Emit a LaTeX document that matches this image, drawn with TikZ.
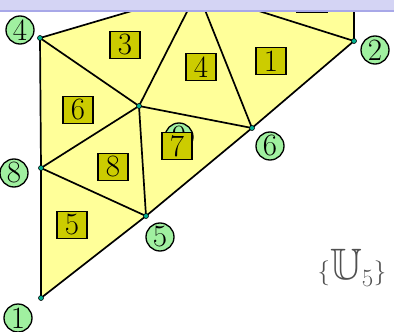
\documentclass[tikz,border=0pt]{standalone}
\usepackage{amssymb}
\definecolor{meshfill}{RGB}{255,255,153}
\definecolor{dotfill}{RGB}{0,176,144}
\definecolor{lblfill}{RGB}{160,240,160}
\definecolor{boxfill}{RGB}{204,204,0}
\definecolor{barfill}{RGB}{212,212,244}
\definecolor{barline}{RGB}{168,168,232}
\definecolor{txtgray}{RGB}{80,80,80}
\tikzset{
  edge/.style={draw=black,line width=1.7pt},
  vdot/.style={circle,fill=dotfill,draw=black,line width=0.6pt,minimum size=5pt,inner sep=0pt},
  vlabel/.style={circle,fill=lblfill,draw=black,line width=1.3pt,minimum size=28pt,inner sep=0pt,font=\fontsize{31}{33}\selectfont},
  elabel/.style={rectangle,fill=boxfill,draw=black,line width=1.6pt,minimum width=30pt,minimum height=27pt,inner sep=0pt,font=\fontsize{31}{33}\selectfont}
}
\begin{document}
\begin{tikzpicture}[x=1pt,y=-1pt]
\useasboundingbox (0,0) rectangle (394,332);
% vertices
\coordinate (v4) at (40,38);
\coordinate (v2) at (354,41);
\coordinate (vc) at (139,106);
\coordinate (v6) at (252,128);
\coordinate (v8) at (41,168);
\coordinate (v5) at (146,216);
\coordinate (v1) at (41,298);
\coordinate (t1) at (169,0);
\coordinate (t2) at (193,0);
\coordinate (t3) at (201,0);
\coordinate (t4) at (224,0);
\coordinate (t5) at (354,0);
% fill
\fill[meshfill] (v4) -- (t1) -- (t5) -- (v2) -- (v6) -- (v5) -- (v1) -- (v8) -- cycle;
% edges
\draw[edge] (v4) -- (t1);
\draw[edge] (v4) -- (vc);
\draw[edge] (v4) -- (v8);
\draw[edge] (v8) -- (v1);
\draw[edge] (v8) -- (vc);
\draw[edge] (v8) -- (v5);
\draw[edge] (vc) -- (v5);
\draw[edge] (vc) -- (v6);
\draw[edge] (vc) -- (t2);
\draw[edge] (v6) -- (t3);
\draw[edge] (v6) -- (v5);
\draw[edge] (v5) -- (v1);
\draw[edge] (v6) -- (v2);
\draw[edge] (v2) -- (t4);
\draw[edge] (v2) -- (t5);
% dots
\foreach \v in {v4,v2,vc,v6,v8,v5,v1} \node[vdot] (d\v) at (\v) {};
% vertex labels
\node[vlabel] (l4) at (20,30) {4};
\node[vlabel] (l2) at (375,50) {2};
\node[vlabel] (l6) at (270,146) {6};
\node[vlabel] (l8) at (14,173) {8};
\node[vlabel] (l5) at (160,237) {5};
\node[vlabel] (l1) at (18,318) {1};
\node[vlabel] (l9) at (179,137) {9};
% element labels
\node[elabel] (b3) at (125,45) {3};
\node[elabel] (b4) at (201,67) {4};
\node[elabel] (b1) at (271,61) {1};
\node[elabel] (b6) at (78,110) {6};
\node[elabel] (b8) at (113,167) {8};
\node[elabel] (b7) at (177,146) {7};
\node[elabel] (b5) at (72,225) {5};
\node[elabel] (b2) at (312,-1) {};
% top bar
\fill[barfill] (0,0) rectangle (394,11);
\draw[barline,line width=1.6pt] (0,11) -- (394,11);
% caption
\node[text=txtgray,font=\fontsize{44}{48}\selectfont,inner sep=0pt] (cap) at (352,268) {$\{\mathbb{U}_5\}$};
\end{tikzpicture}
\end{document}
